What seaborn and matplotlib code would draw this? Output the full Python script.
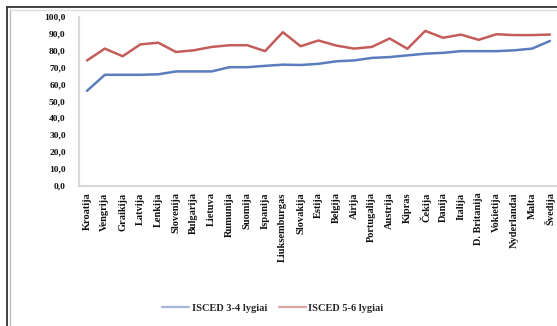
import matplotlib
matplotlib.use("Agg")
import matplotlib.pyplot as plt
import seaborn as sns
import pandas as pd
from matplotlib.lines import Line2D

countries = ["Kroatija", "Vengrija", "Graikija", "Latvija", "Lenkija", "Slovenija",
             "Bulgarija", "Lietuva", "Rumunija", "Suomija", "Ispanija", "Liuksemburgas",
             "Slovakija", "Estija", "Belgija", "Airija", "Portugalija", "Austrija",
             "Kipras", "Čekija", "Danija", "Italija", "D. Britanija", "Vokietija",
             "Nyderlandai", "Malta", "Švedija"]
isced_34 = [56.0, 65.5, 65.5, 65.5, 65.8, 67.5, 67.5, 67.5, 70.0, 70.0, 70.8, 71.5,
            71.3, 72.0, 73.5, 74.0, 75.5, 76.0, 77.0, 78.0, 78.5, 79.5, 79.5, 79.5,
            80.0, 81.0, 85.5]
isced_56 = [74.0, 81.0, 76.5, 83.5, 84.5, 79.0, 80.0, 82.0, 83.0, 83.0, 79.5, 90.7,
            82.4, 85.8, 82.8, 81.0, 82.0, 87.0, 80.9, 91.5, 87.4, 89.3, 86.2, 89.5,
            89.0, 89.0, 89.3]
series_names = ["ISCED 3-4 lygiai", "ISCED 5-6 lygiai"]
y_ticks = [0, 10, 20, 30, 40, 50, 60, 70, 80, 90, 100]

colors = {series_names[0]: "#5b7dbd", series_names[1]: "#c45c5a"}

idx = list(range(len(countries)))
df = pd.DataFrame({
    "pos": idx * 2,
    "value": isced_34 + isced_56,
    "series": [series_names[0]] * len(idx) + [series_names[1]] * len(idx),
})

sns.set_theme(style="white")
plt.rcParams["font.family"] = ["Liberation Serif", "DejaVu Serif"]
plt.rcParams["font.weight"] = "bold"

fig = plt.figure(figsize=(5.57, 3.26), dpi=100)
W, H = 557, 326
ax = fig.add_axes([79 / W, 1 - 185.5 / H, (557 - 79) / W, (185.5 - 16.5) / H])

sns.lineplot(data=df, x="pos", y="value", hue="series", palette=colors,
             linewidth=1.8, ax=ax, legend=False)

ax.set_xlim(-0.45, 26.4)
ax.set_ylim(0, 100)
ax.set_yticks(y_ticks)
ax.set_yticklabels([f"{v:.1f}".replace(".", ",") for v in y_ticks],
                   fontsize=6.8, fontweight="bold", color="#111111")
ax.set_xticks(idx)
ax.set_xticklabels(countries, rotation=90, fontsize=7.5, fontweight="bold",
                   color="#111111", va="top", ha="center")
ax.tick_params(axis="both", length=0)
ax.tick_params(axis="y", pad=9.5)
ax.tick_params(axis="x", pad=5)
ax.set_xlabel("")
ax.set_ylabel("")
for s in ["top", "right"]:
    ax.spines[s].set_visible(False)
for s in ["left", "bottom"]:
    ax.spines[s].set_color("#d9d9d9")
    ax.spines[s].set_linewidth(1.6)

handles = [Line2D([], [], color="#a9b5d6", lw=1.6),
           Line2D([], [], color="#dca3a5", lw=1.6)]
fig.legend(handles, series_names, loc="center", bbox_to_anchor=(273 / W, 1 - 308 / H),
           ncol=2, frameon=False, handlelength=2.6, handletextpad=0.2,
           columnspacing=1.2, prop={"weight": "bold", "size": 7.5})

# outer frame
fig.add_artist(Line2D([7 / W, 1], [1 - 7 / H, 1 - 7 / H], transform=fig.transFigure,
                      color="#333333", lw=1.3))
fig.add_artist(Line2D([7 / W, 7 / W], [0, 1 - 7 / H], transform=fig.transFigure,
                      color="#333333", lw=1.3))
fig.add_artist(Line2D([10 / W, 10 / W], [0, 1 - 9 / H], transform=fig.transFigure,
                      color="#bbbbbb", lw=1.0))
fig.add_artist(Line2D([10 / W, 1], [1 - 10 / H, 1 - 10 / H], transform=fig.transFigure,
                      color="#dddddd", lw=1.0))

fig.savefig("out.png", dpi=100)
